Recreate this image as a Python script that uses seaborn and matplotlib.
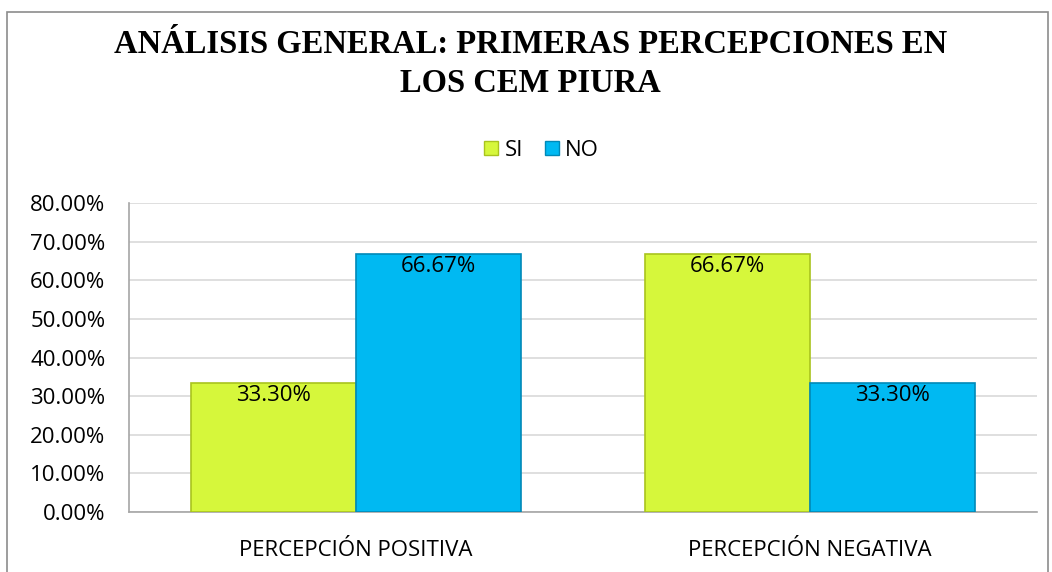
import pandas as pd
import matplotlib.pyplot as plt
import seaborn as sns
from matplotlib.patches import Rectangle

# Data
categories = ['PERCEPCIÓN POSITIVA', 'PERCEPCIÓN NEGATIVA']
si_values = [33.30, 66.67]
no_values = [66.67, 33.30]
series_names = ['SI', 'NO']
colors = ['#D6F73B', '#00B9F2']
edge_colors = ['#A9C41E', '#0089B8']

df = pd.DataFrame({
    'categoria': categories * 2,
    'respuesta': [series_names[0]] * 2 + [series_names[1]] * 2,
    'valor': si_values + no_values,
})

sns.set_style('white')
plt.rcParams['font.family'] = ['Open Sans', 'DejaVu Sans']
plt.rcParams['text.color'] = 'black'
plt.rcParams['xtick.color'] = 'black'
plt.rcParams['ytick.color'] = 'black'

fig = plt.figure(figsize=(10.52, 5.72), dpi=100)
ax = fig.add_axes([0.1226, 0.1049, 0.8631, 0.5402])

sns.barplot(data=df, x='categoria', y='valor', hue='respuesta',
            palette=colors, saturation=1, width=0.727, ax=ax, legend=False, zorder=3)

# darker bevel-ish edge on each bar
for i, cont in enumerate(ax.containers):
    for bar in cont:
        bar.set_edgecolor(edge_colors[i])
        bar.set_linewidth(1.2)
    ax.bar_label(cont, labels=[f'{v:.2f}%' for v in cont.datavalues],
                 label_type='edge', padding=-16, fontsize=16, color='black')

ax.set_ylim(0, 80)
ax.set_yticks(range(0, 81, 10))
ax.set_yticklabels([f'{v:.2f}%' for v in range(0, 81, 10)], fontsize=16)
ax.tick_params(axis='y', pad=17)
ax.tick_params(axis='x', labelsize=16, pad=20)
ax.tick_params(axis='both', length=0)
ax.set_xlabel('')
ax.set_ylabel('')
ax.yaxis.grid(True, color='#D9D9D9', linewidth=1.2, zorder=0)
ax.set_axisbelow(True)
for s in ['top', 'right']:
    ax.spines[s].set_visible(False)
for s in ['left', 'bottom']:
    ax.spines[s].set_color('#A6A6A6')
    ax.spines[s].set_linewidth(1.2)

# legend
handles = [Rectangle((0, 0), 1, 1, facecolor=c, edgecolor=e) for c, e in zip(colors, edge_colors)]
fig.legend(handles, series_names, loc='center', bbox_to_anchor=(0.515, 0.737),
           ncol=2, frameon=False, fontsize=16, handlelength=0.6, handleheight=0.6,
           handletextpad=0.3, columnspacing=1.0)

# title
fig.text(0.504, 0.888, 'ANÁLISIS GENERAL: PRIMERAS PERCEPCIONES EN\nLOS CEM PIURA',
         ha='center', va='center', fontsize=23.5, fontweight='bold',
         family='Liberation Serif', linespacing=1.35)

# outer chart frame
fig.patches.append(Rectangle((7 / 1052, -0.05), 1041 / 1052, 1.05 - 12 / 572,
                             transform=fig.transFigure, fill=False,
                             edgecolor='#8C8C8C', linewidth=1.2))

plt.savefig('out.png', dpi=100)
plt.close()
